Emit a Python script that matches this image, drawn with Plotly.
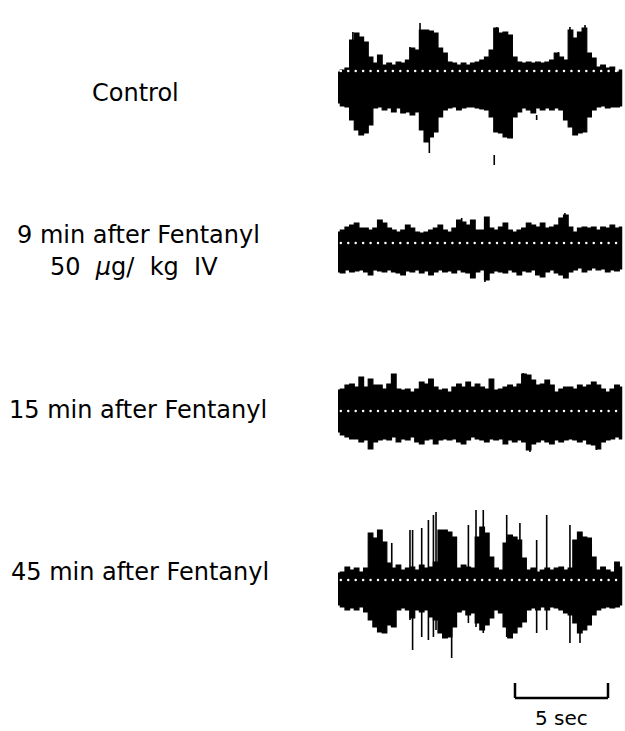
import plotly.graph_objects as go

# ---------------------------------------------------------------------------
# Envelope readings of the four nerve recordings, sampled every 0.25 s.
# Values are amplitude of the upper / lower edge of the discharge (arbitrary units).
# ---------------------------------------------------------------------------
SAMPLE_STEP = 0.25
N_SAMPLES = 62
time_s = [round(i * SAMPLE_STEP, 2) for i in range(N_SAMPLES)]

control_top = [16, 18, 20, 48, 55, 51, 46, 31, 25, 33,
               23, 25, 23, 26, 25, 28, 40, 38, 58, 58,
               57, 55, 40, 35, 26, 25, 23, 25, 23, 25,
               26, 28, 31, 38, 60, 55, 56, 53, 31, 26,
               25, 26, 25, 26, 25, 26, 28, 35, 31, 28,
               58, 50, 56, 60, 35, 30, 21, 23, 20, 21,
               16, 18]
control_bot = [-15, -18, -19, -32, -42, -47, -45, -37, -20, -19,
               -22, -20, -24, -20, -25, -24, -27, -24, -42, -54,
               -49, -44, -29, -22, -20, -19, -22, -20, -19, -19,
               -20, -21, -22, -29, -44, -45, -49, -50, -29, -24,
               -20, -22, -25, -20, -22, -20, -22, -20, -22, -32,
               -39, -47, -45, -44, -29, -22, -19, -18, -20, -19,
               -19, -18]

min9_top = [18, 20, 23, 25, 27, 22, 22, 20, 22, 30,
            27, 22, 20, 18, 20, 25, 22, 18, 17, 18,
            20, 22, 25, 20, 18, 22, 30, 28, 25, 30,
            20, 20, 33, 22, 20, 23, 27, 20, 18, 20,
            22, 27, 25, 23, 27, 22, 23, 25, 32, 35,
            23, 18, 22, 23, 22, 23, 20, 23, 22, 25,
            22, 23]
min9_bot = [-22, -23, -20, -22, -21, -20, -22, -25, -20, -21,
            -22, -20, -22, -23, -25, -21, -22, -20, -23, -21,
            -25, -22, -20, -22, -21, -23, -20, -22, -23, -28,
            -22, -20, -30, -23, -21, -22, -23, -20, -22, -25,
            -21, -22, -20, -25, -27, -22, -20, -23, -25, -28,
            -22, -20, -18, -22, -20, -18, -20, -19, -22, -20,
            -21, -19]

min15_top = [22, 23, 27, 28, 25, 35, 25, 33, 27, 27,
             23, 28, 38, 23, 22, 23, 20, 23, 30, 28,
             33, 25, 22, 23, 20, 25, 28, 25, 30, 25,
             28, 25, 23, 33, 22, 23, 25, 27, 25, 28,
             38, 37, 32, 27, 28, 32, 27, 20, 23, 25,
             25, 23, 27, 25, 27, 30, 27, 23, 20, 23,
             27, 25]
min15_bot = [-20, -23, -25, -27, -27, -30, -28, -37, -30, -28,
             -27, -28, -25, -30, -27, -28, -25, -30, -32, -28,
             -27, -32, -28, -27, -28, -27, -30, -32, -28, -25,
             -27, -28, -30, -27, -28, -27, -32, -28, -30, -28,
             -30, -38, -32, -30, -28, -30, -32, -28, -30, -28,
             -27, -28, -30, -28, -32, -33, -37, -30, -28, -27,
             -25, -27]

min45_top = [17, 18, 23, 20, 22, 18, 22, 57, 52, 60,
             48, 27, 22, 25, 20, 22, 23, 20, 25, 22,
             23, 28, 60, 60, 58, 53, 22, 25, 23, 22,
             53, 63, 57, 33, 22, 20, 47, 55, 53, 50,
             32, 20, 22, 18, 20, 22, 20, 22, 23, 20,
             22, 50, 58, 53, 52, 33, 20, 23, 20, 18,
             28, 23]
min45_bot = [-15, -17, -20, -18, -20, -17, -22, -30, -37, -42,
             -43, -35, -37, -20, -18, -20, -28, -20, -22, -20,
             -27, -30, -43, -48, -47, -37, -22, -20, -25, -23,
             -33, -40, -35, -28, -20, -23, -37, -48, -43, -37,
             -32, -20, -18, -20, -17, -20, -17, -18, -20, -23,
             -25, -33, -43, -40, -35, -25, -20, -18, -17, -18,
             -17, -15]

# Isolated spikes standing out of each record: (time s, lower end, upper end)
control_spikes = [(0.80, 0, 56), (3.87, 0, 41), (4.41, 0, 65), (4.91, -65, 0),
                  (8.40, -77, -67), (8.53, 0, 61), (10.68, -32, -27),
                  (11.85, 0, 36), (12.47, 0, 61), (13.28, 0, 63)]
min9_spikes = [(6.65, 0, 32), (7.90, -32, 0), (12.20, 0, 37)]
min15_spikes = [(2.89, 0, 38), (9.96, 0, 39), (10.32, -40, 0), (13.90, -38, 0)]
min45_spikes = [(2.89, -37, 47), (3.87, -30, 60), (4.01, -60, 60), (4.50, -47, 62),
                (4.86, -50, 70), (5.13, -47, 75), (5.27, -40, 78), (6.11, -68, -30),
                (7.01, -33, 65), (7.42, -37, 80), (7.81, -43, 92), (9.07, -47, 75),
                (9.78, -30, 67), (10.68, -43, 50), (11.22, -40, 75), (12.47, -53, 65),
                (13.01, -53, -30)]

# Level of the white time-marker dots written across each record
marker_level = [17, 7, 1, 10]
MARK_INTERVAL = 0.4

record_names = ["Control", "9 min after Fentanyl", "15 min after Fentanyl",
                "45 min after Fentanyl"]
NBSP = "\u00a0"
dose_text = f"50{NBSP*2}<i>μ</i>g/{NBSP*2}kg{NBSP*2}IV"
SCALE_SEC = 5
scale_text = "5 sec"

records = [
    (control_top, control_bot, control_spikes),
    (min9_top, min9_bot, min9_spikes),
    (min15_top, min15_bot, min15_spikes),
    (min45_top, min45_bot, min45_spikes),
]

# ---------------------------------------------------------------------------
W, H = 625, 731
PX_PER_SEC = 18.6
T0_PX = 338                         # left edge of the recordings
row_centres_px = [88, 250, 412, 590]
HALF = 80                            # half-height of each row in amplitude units

fig = go.Figure()

for i, (top, bot, spikes) in enumerate(records):
    yname = "y" if i == 0 else f"y{i + 1}"
    # filled discharge envelope
    fig.add_trace(go.Scatter(
        x=time_s + time_s[::-1],
        y=top + bot[::-1],
        mode="lines", fill="toself", fillcolor="black",
        line=dict(color="black", width=1.2, shape="hvh"),
        yaxis=yname, hoverinfo="skip"))
    # single spikes
    sx, sy = [], []
    for t, lo, hi in spikes:
        sx += [t, t, None]
        sy += [lo, hi, None]
    fig.add_trace(go.Scatter(
        x=sx, y=sy, mode="lines",
        line=dict(color="black", width=1.6),
        yaxis=yname, hoverinfo="skip"))
    # white timing dots
    n_marks = int(time_s[-1] / MARK_INTERVAL)
    mx = [0.15 + k * MARK_INTERVAL for k in range(n_marks)]
    fig.add_trace(go.Scatter(
        x=mx, y=[marker_level[i]] * len(mx), mode="markers",
        marker=dict(color="white", size=2.5, line=dict(width=0)),
        yaxis=yname, hoverinfo="skip"))

layout_axes = {}
for i, c in enumerate(row_centres_px):
    key = "yaxis" if i == 0 else f"yaxis{i + 1}"
    lo = (H - c - HALF) / H
    hi = (H - c + HALF) / H
    layout_axes[key] = dict(domain=[lo, hi], range=[-HALF, HALF],
                            visible=False, anchor="x", fixedrange=True)

FONT = "DejaVu Sans"
ann = [
    dict(text=record_names[0], x=135 / W, y=1 - 93 / H),
    dict(text=record_names[1], x=138 / W, y=1 - 235 / H),
    dict(text=dose_text, x=134 / W, y=1 - 267 / H),
    dict(text=record_names[2], x=138 / W, y=1 - 410 / H),
    dict(text=record_names[3], x=140 / W, y=1 - 572 / H),
]
annotations = [dict(a, xref="paper", yref="paper", showarrow=False,
                    xanchor="center", yanchor="middle",
                    font=dict(family=FONT, size=24, color="black")) for a in ann]

# time scale bar
bar_start = (515 - T0_PX) / PX_PER_SEC
bar_y = 1 - 698 / H
tick_y = 1 - 683 / H
shapes = [
    dict(type="line", xref="x", yref="paper", x0=bar_start, x1=bar_start + SCALE_SEC,
         y0=bar_y, y1=bar_y, line=dict(color="black", width=2.5)),
    dict(type="line", xref="x", yref="paper", x0=bar_start, x1=bar_start,
         y0=bar_y, y1=tick_y, line=dict(color="black", width=2.5)),
    dict(type="line", xref="x", yref="paper", x0=bar_start + SCALE_SEC,
         x1=bar_start + SCALE_SEC, y0=bar_y, y1=tick_y,
         line=dict(color="black", width=2.5)),
]
annotations.append(dict(text=scale_text, xref="x", yref="paper",
                        x=bar_start + SCALE_SEC / 2, y=0.0,
                        showarrow=False, xanchor="center", yanchor="bottom",
                        borderpad=0,
                        font=dict(family=FONT, size=20, color="black")))

fig.update_layout(
    width=W, height=H,
    margin=dict(l=0, r=0, t=0, b=0),
    paper_bgcolor="white", plot_bgcolor="white",
    showlegend=False,
    xaxis=dict(range=[-T0_PX / PX_PER_SEC, (W - T0_PX) / PX_PER_SEC],
               domain=[0, 1], visible=False, fixedrange=True),
    annotations=annotations,
    shapes=shapes,
    **layout_axes,
)

fig.write_html("out.html", config={"displayModeBar": False})
